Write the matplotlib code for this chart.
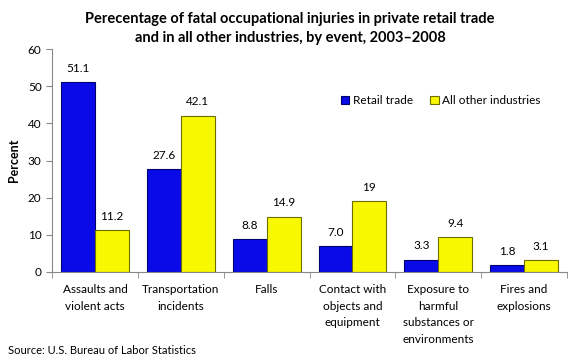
import matplotlib.pyplot as plt
import numpy as np

plt.rcParams['font.family'] = ['Lato', 'DejaVu Sans']

categories = ['Assaults and\nviolent acts', 'Transportation\nincidents', 'Falls',
              'Contact with\nobjects and\nequipment', 'Exposure to\nharmful\nsubstances or\nenvironments',
              'Fires and\nexplosions']
retail = [51.1, 27.6, 8.8, 7.0, 3.3, 1.8]
other = [11.2, 42.1, 14.9, 19, 9.4, 3.1]
retail_labels = ['51.1', '27.6', '8.8', '7.0', '3.3', '1.8']
other_labels = ['11.2', '42.1', '14.9', '19', '9.4', '3.1']

fig = plt.figure(figsize=(5.8, 3.63), dpi=100)
ax = fig.add_axes([0.0897, 0.2507, 0.8879, 0.6143])

x = np.arange(len(categories))
w = 0.395
b1 = ax.bar(x - w / 2, retail, w, color='#0A0AE8', edgecolor='#00006A', linewidth=0.8, label='Retail trade')
b2 = ax.bar(x + w / 2, other, w, color='#F8F800', edgecolor='#6E6E00', linewidth=0.8, label='All other industries')

for rect, lab in zip(b1, retail_labels):
    ax.annotate(lab, (rect.get_x() + rect.get_width() / 2, rect.get_height()), xytext=(0, 6),
                textcoords='offset points', ha='center', va='bottom', fontsize=8.5)
for rect, lab in zip(b2, other_labels):
    ax.annotate(lab, (rect.get_x() + rect.get_width() / 2, rect.get_height()), xytext=(0, 6),
                textcoords='offset points', ha='center', va='bottom', fontsize=8.5)

ax.set_xlim(-0.5, len(categories) - 0.5)
ax.set_ylim(0, 60)
ax.set_yticks(range(0, 61, 10))
ax.set_xticks(x)
ax.set_xticklabels(categories, fontsize=8.5, linespacing=1.6, va='top')
ax.set_xticks(np.arange(len(categories) + 1) - 0.5, minor=True)
ax.tick_params(axis='x', which='major', length=0, pad=9)
ax.tick_params(axis='x', which='minor', length=4, color='#888888', direction='out')
ax.tick_params(axis='y', length=4, color='#888888', labelsize=8.5, direction='out')
for s in ['top', 'right']:
    ax.spines[s].set_visible(False)
ax.spines['left'].set_color('#888888')
ax.spines['bottom'].set_color('#888888')

ax.set_ylabel('Percent', fontsize=9, fontweight='bold', labelpad=6)

ax.legend(loc='upper left', bbox_to_anchor=(0.54, 0.84), ncol=2, frameon=False, fontsize=8.5,
          handlelength=0.7, handleheight=0.7, handletextpad=0.3, columnspacing=1.5)

fig.text(0.5, 0.968, 'Perecentage of fatal occupational injuries in private retail trade\n'
         'and in all other industries, by event, 2003\u20132008',
         ha='center', va='top', fontsize=10.5, fontweight='bold', linespacing=1.45)
fig.text(0.014, 0.035, 'Source: U.S. Bureau of Labor Statistics', fontsize=8, va='center')

fig.savefig('out.png', dpi=100)
